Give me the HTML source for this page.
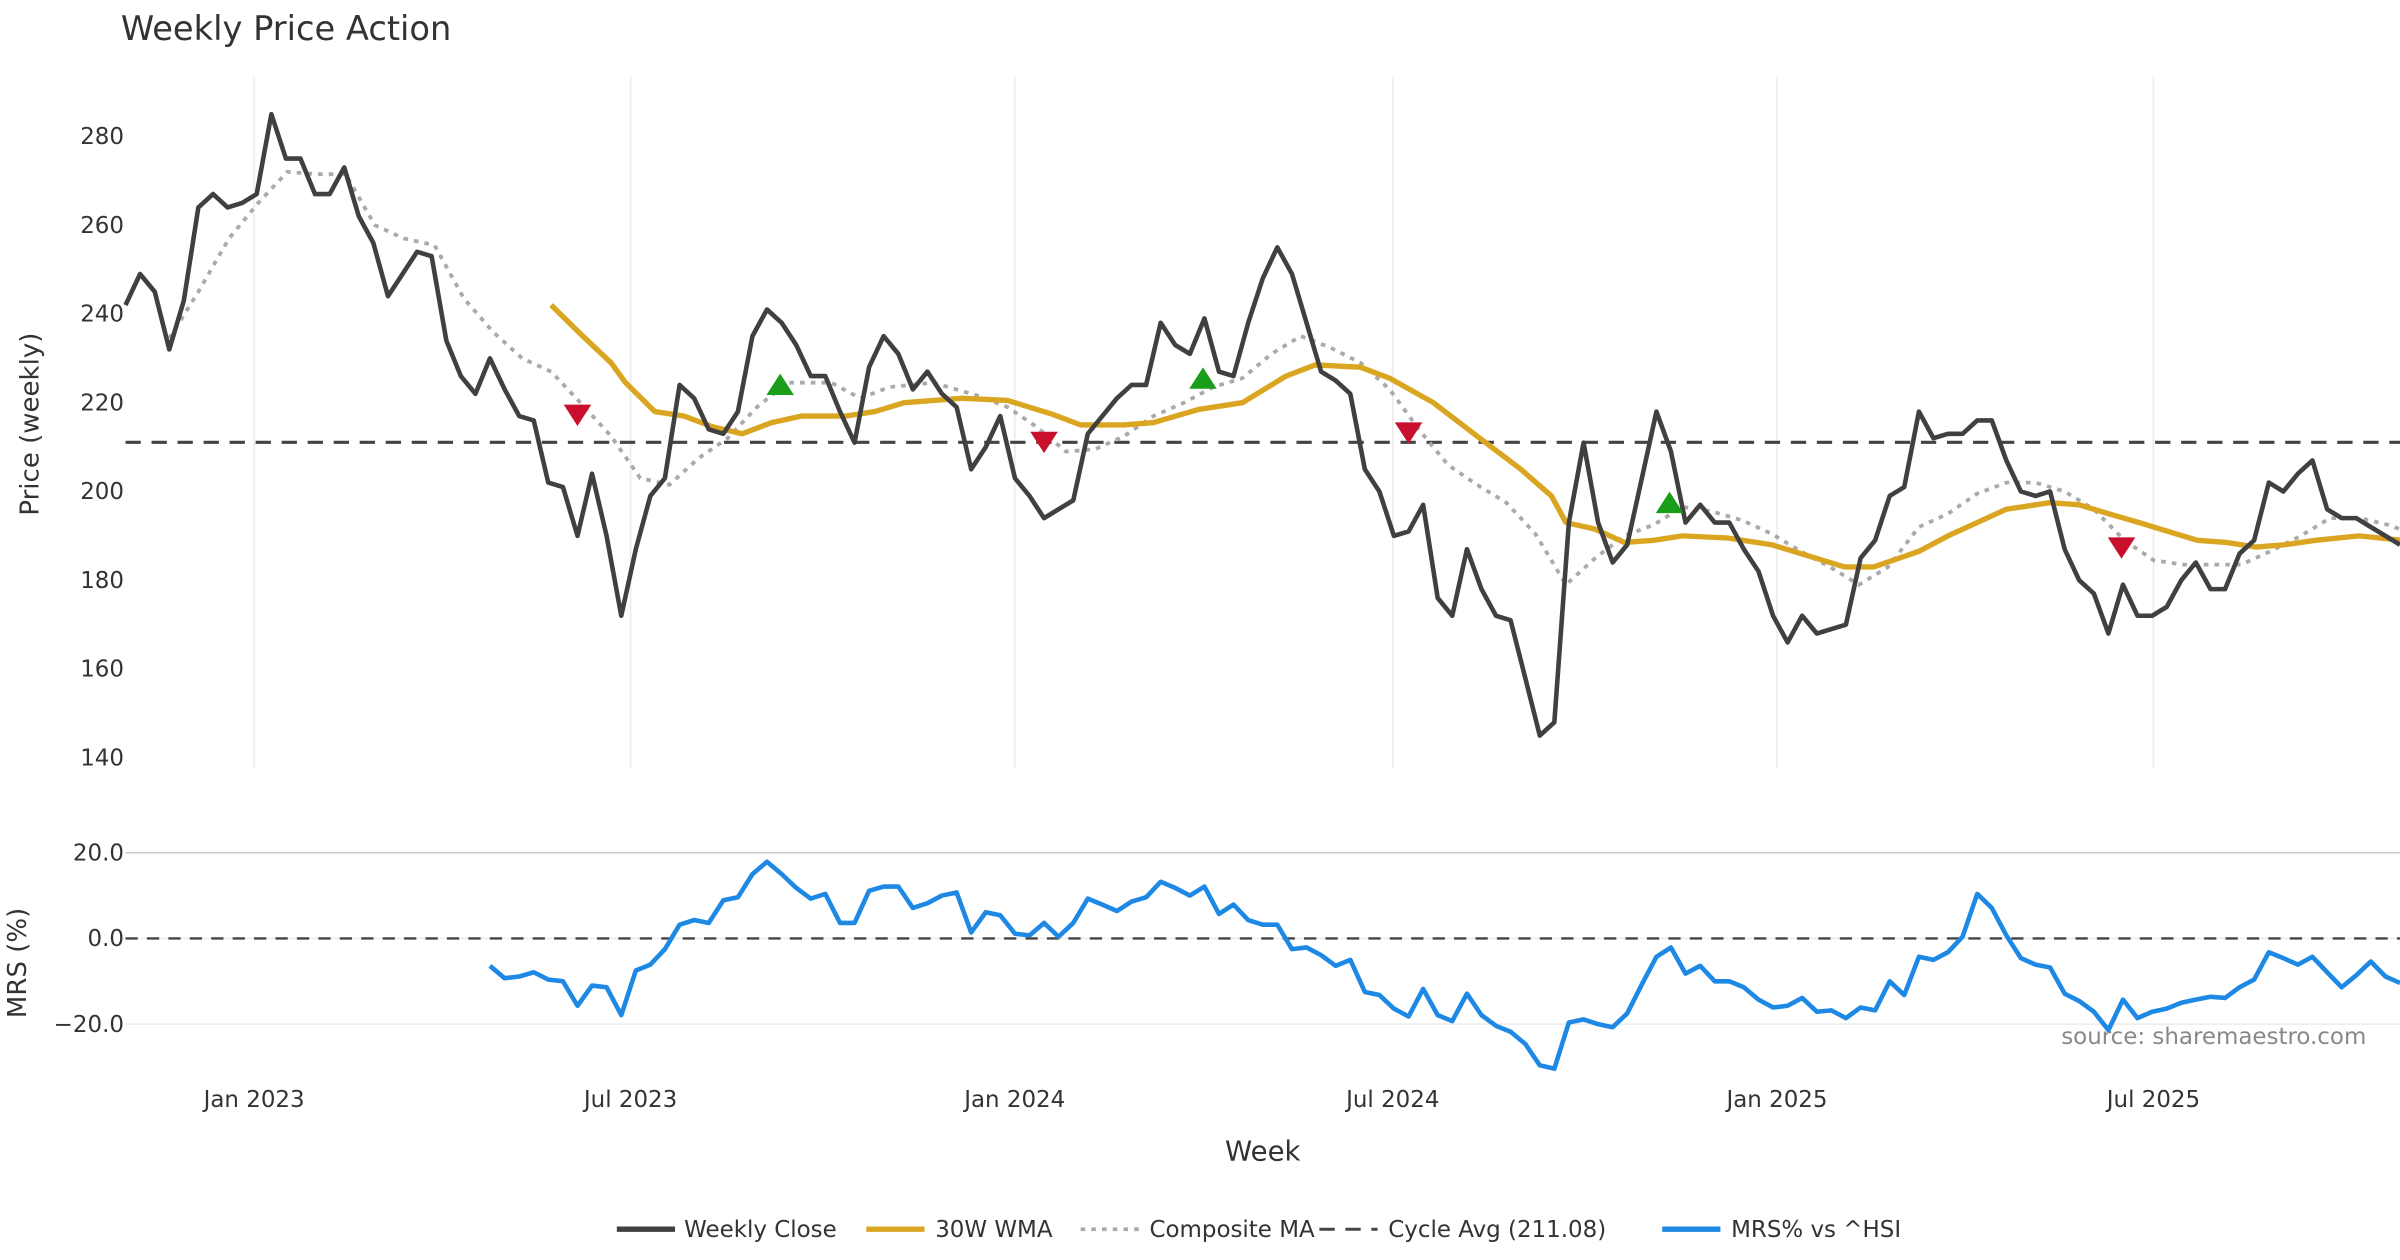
<!DOCTYPE html>
<html><head><meta charset="utf-8"><style>
html,body{margin:0;padding:0;background:#fff;}
svg{display:block;font-family:"DejaVu Sans","Liberation Sans",sans-serif;}
</style></head><body>
<svg id="chart" width="2400" height="1260" viewBox="0 0 1568 823" xmlns="http://www.w3.org/2000/svg">
<defs><clipPath id="plotclip"><rect x="0" y="0" width="1568" height="823"/></clipPath></defs>
<text x="79" y="26" font-size="22" fill="#333">Weekly Price Action</text>
<g id="grid"></g><g id="price" clip-path="url(#plotclip)"></g><g id="mrs" clip-path="url(#plotclip)"></g><g id="axes"></g>
<text transform="translate(25,277) rotate(-90)" text-anchor="middle" font-size="17" fill="#333">Price (weekly)</text>
<text transform="translate(17,629) rotate(-90)" text-anchor="middle" font-size="17" fill="#333">MRS (%)</text>
<text x="825" y="758" text-anchor="middle" font-size="18" fill="#333">Week</text>
<text x="1546" y="682" text-anchor="end" font-size="15" fill="#888">source: sharemaestro.com</text>
<g font-size="15" fill="#333">
<line x1="403" y1="803" x2="441" y2="803" stroke="#404040" stroke-width="3.5"/><text x="447" y="808">Weekly Close</text>
<line x1="566" y1="803" x2="604" y2="803" stroke="#DAA520" stroke-width="3.5"/><text x="611" y="808">30W WMA</text>
<line x1="706" y1="803" x2="744" y2="803" stroke="#aaa" stroke-width="2.5" stroke-dasharray="3,4"/><text x="751" y="808">Composite MA</text>
<line x1="862" y1="803" x2="900" y2="803" stroke="#444" stroke-width="2" stroke-dasharray="10,7"/><text x="907" y="808">Cycle Avg (211.08)</text>
<line x1="1086" y1="803" x2="1124" y2="803" stroke="#1E88E5" stroke-width="3.5"/><text x="1131" y="808">MRS% vs ^HSI</text>
</g>
</svg>
<script>
const closeValues=[242,249,245,232,243,264,267,264,265,267,285,275,275,267,267,273,262,256,244,249,254,253,234,226,222,230,223,217,216,202,201,190,204,190,172,187,199,203,224,221,214,213,218,235,241,238,233,226,226,218,211,228,235,231,223,227,222,219,205,210,217,203,199,194,196,198,213,217,221,224,224,238,233,231,239,227,226,238,248,255,249,238,227,225,222,205,200,190,191,197,176,172,187,178,172,171,158,145,148,193,211,193,184,188,203,218,209,193,197,193,193,187,182,172,166,172,168,169,170,185,189,199,201,218,212,213,213,216,216,207,200,199,200,187,180,177,168,179,172,172,174,180,184,178,178,186,189,202,200,204,207,196,194,194,192,190,188];
const wmaWeeks=[29.2,31.2,33.3,34.3,36.3,38.3,40.3,42.3,44.3,46.4,49.4,51.4,53.4,57.4,60.5,63.5,65.5,68.5,70.5,73.6,76.6,79.6,81.6,84.7,86.7,89.7,92.7,95.7,97.8,98.8,100.8,102.8,104.8,106.8,109.9,112.9,114.9,117.9,119.9,123,125,127,129,132,134,136,138.1,140.1,142.1,144.1,146.1,148.1,150.2,153.2,156.2];
const wmaValues=[242,235.5,229,224.5,218,217,214.5,213,215.5,217,217,218,220,221,220.5,217.5,215,215,215.5,218.5,220,226,228.5,228,225.5,220,212.5,205,199,193,191.5,188.5,189,190,189.5,188,186,183,183,186.5,190,193,196,197.5,197,195,193,191,189,188.5,187.5,188,189,190,189];
const compWeeks=[3,5,7.1,9.1,11.1,13.1,15.1,17.1,19.1,21.2,23.2,25.2,27.2,29.2,31.2,33.3,35.3,37.3,39.3,41.3,43.3,45.4,48.4,50.4,52.4,55.4,58.5,60.5,62.5,64.5,66.5,68.5,70.5,72.6,74.6,76.6,78.6,80.6,82.6,84.7,86.7,88.7,90.7,92.7,94.7,96.7,98.8,100.8,102.8,104.8,106.8,108.8,110.9,112.9,114.9,116.9,118.9,120.9,123,125,127,129,131,133,135,137.1,139.1,141.1,143.1,145.1,147.1,149.2,151.2,153.2,155.2,156];
const compValues=[234.5,245,257,265,272,271.5,271.5,260,257,255.5,243.5,236,230,227,220,212.5,203,201.5,207.5,212,219,224.5,224.5,221,223.5,224.5,221.5,219,214.5,209,209.5,212.5,217,220,223.5,225.5,231,235,232.5,229,223,214,206,201.5,197.5,190.5,179,185,190,192.5,196.5,195.5,193.5,190.5,186.5,183,179,183,192,195,199.5,202,202,200,196,189,184.5,183.5,183.5,183.5,186.5,190,194,194,192.5,191.5];
const mrsStart=25;
const mrsValues=[-6.4,-9.3,-8.9,-7.9,-9.6,-10,-15.7,-11,-11.4,-17.9,-7.5,-6.1,-2.5,3.2,4.3,3.6,8.9,9.6,15,17.9,15,11.8,9.3,10.4,3.6,3.6,11.1,12.1,12.1,7.1,8.2,10,10.7,1.4,6.1,5.4,1.1,0.7,3.6,0.4,3.6,9.3,7.9,6.4,8.6,9.6,13.2,11.8,10,12.1,5.7,7.9,4.3,3.2,3.2,-2.5,-2.1,-3.9,-6.4,-5,-12.5,-13.2,-16.4,-18.2,-11.8,-17.9,-19.3,-12.9,-17.9,-20.4,-21.8,-24.6,-29.6,-30.4,-19.6,-18.9,-20,-20.7,-17.5,-10.7,-4.3,-2.1,-8.2,-6.4,-10,-10,-11.4,-14.3,-16.1,-15.7,-13.9,-17.1,-16.8,-18.6,-16.1,-16.8,-10,-13.2,-4.3,-5,-3.2,0.4,10.4,7.1,0.7,-4.6,-6.1,-6.8,-12.9,-14.6,-17.1,-21.4,-14.3,-18.6,-17.1,-16.4,-15,-14.3,-13.6,-13.9,-11.4,-9.6,-3.2,-4.6,-6.1,-4.3,-7.9,-11.4,-8.6,-5.4,-8.9,-10.4];
const sellWeeks=[31,63,88,136.9];
const sellValues=[217.5,211.4,213.5,187.6];
const buyWeeks=[44.9,73.9,105.9];
const buyValues=[223.8,225.2,197.2];
const cycleAvg=211.08;
const priceTicks=[140,160,180,200,220,240,260,280];
const mrsTicks=[-20,0,20];
const xTickWeeks=[8.82,34.64,60.99,86.92,113.27,139.09];
const xTickLabels=["Jan 2023","Jul 2023","Jan 2024","Jul 2024","Jan 2025","Jul 2025"];

const NS="http://www.w3.org/2000/svg";
const X0=82,X1=1568,N=closeValues.length;
const x=i=>X0+i*(X1-X0)/(N-1);
const yP=v=>89+(280-v)*2.9;
const yM=v=>613-v*2.8;
function mk(parent,tag,attrs){const e=document.createElementNS(NS,tag);for(const k in attrs)e.setAttribute(k,attrs[k]);document.getElementById(parent).appendChild(e);return e;}
function pts(ws,vs,yf){return ws.map((w,i)=>x(w).toFixed(1)+","+yf(vs[i]).toFixed(1)).join(" ");}

xTickWeeks.forEach((w,i)=>{
  let g=mk('grid','line',{x1:x(w),x2:x(w),y1:50,y2:502,stroke:'#ebebeb','stroke-width':1});
  
  
  let t=mk('axes','text',{x:x(w),y:723,'text-anchor':'middle','font-size':15,fill:'#333'});
  t.textContent=xTickLabels[i];
  
  
});
priceTicks.forEach(v=>{
  let t=mk('axes','text',{x:81,y:yP(v)+5,'text-anchor':'end','font-size':15,fill:'#333'});
  t.textContent=v;
  
  
});
mrsTicks.forEach(v=>{
  let g=mk('grid','line',{x1:82,x2:1568,y1:yM(v),y2:yM(v),stroke:v===20?'#ccc':'#ebebeb','stroke-width':1});
  
  
  let t=mk('axes','text',{x:81,y:yM(v)+5,'text-anchor':'end','font-size':15,fill:'#333'});
  t.textContent=(v<0?'\u2212'+(-v).toFixed(1):v.toFixed(1));
  
  
});
let ca=mk('price','line',{x1:82,x2:1568,y1:yP(cycleAvg),y2:yP(cycleAvg),stroke:'#444','stroke-width':2,'stroke-dasharray':'10,7'});


let cm=mk('price','polyline',{points:pts(compWeeks,compValues,yP),fill:'none',stroke:'#aaa','stroke-width':2.5,'stroke-dasharray':'3,4'});


let wm=mk('price','polyline',{points:pts(wmaWeeks,wmaValues,yP),fill:'none',stroke:'#DAA520','stroke-width':3.5,'stroke-linejoin':'round'});


let cl=mk('price','polyline',{points:pts(closeValues.map((_,i)=>i),closeValues,yP),fill:'none',stroke:'#404040','stroke-width':3,'stroke-linejoin':'round'});


sellWeeks.forEach((w,i)=>{
  const cx=x(w),cy=yP(sellValues[i]);
  let m=mk('price','polygon',{points:`${cx-9},${cy-6} ${cx+9},${cy-6} ${cx},${cy+8}`,fill:'#C8102E'});
  
  
});
buyWeeks.forEach((w,i)=>{
  const cx=x(w),cy=yP(buyValues[i]);
  let m=mk('price','polygon',{points:`${cx-9},${cy+6} ${cx+9},${cy+6} ${cx},${cy-8}`,fill:'#1a9e1a'});
  
  
});
let z=mk('mrs','line',{x1:82,x2:1568,y1:yM(0),y2:yM(0),stroke:'#444','stroke-width':1.6,'stroke-dasharray':'8,6'});


let ml=mk('mrs','polyline',{points:pts(mrsValues.map((_,i)=>i+mrsStart),mrsValues,yM),fill:'none',stroke:'#1E88E5','stroke-width':3,'stroke-linejoin':'round'});


</script>
</body></html>
